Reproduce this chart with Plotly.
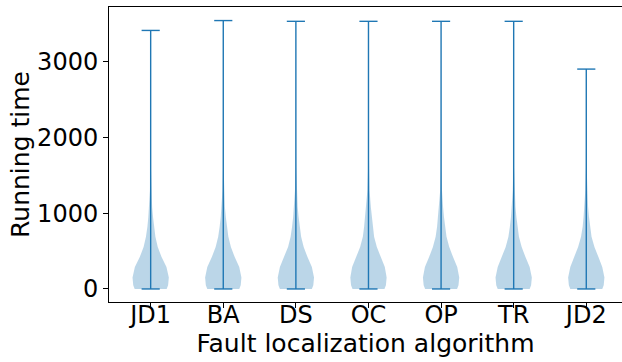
import plotly.graph_objects as go

# Fault localization algorithms and their running-time distributions
algorithms = ["JD1", "BA", "DS", "OC", "OP", "TR", "JD2"]
run_min = [0, 0, 0, 0, 0, 0, 0]
run_max = [3410, 3540, 3530, 3530, 3530, 3530, 2900]

# Running-time levels at which the density profile is given
levels = [0, 50, 150, 290, 420, 555, 690, 820, 950, 1080, 1300, 1600, 2000, 2500]

# Relative kernel density (1.0 = widest point of each violin)
density = {
    "JD1": [0.88, 0.96, 1.00, 0.87, 0.60, 0.39, 0.26, 0.18, 0.13, 0.08, 0.04, 0.015, 0.006, 0.002],
    "BA":  [0.88, 0.96, 1.00, 0.88, 0.63, 0.42, 0.28, 0.20, 0.14, 0.09, 0.045, 0.018, 0.007, 0.002],
    "DS":  [0.88, 0.96, 1.00, 0.88, 0.64, 0.43, 0.29, 0.21, 0.15, 0.10, 0.05, 0.02, 0.007, 0.002],
    "OC":  [0.88, 0.96, 1.00, 0.90, 0.68, 0.46, 0.31, 0.24, 0.18, 0.13, 0.06, 0.02, 0.007, 0.002],
    "OP":  [0.88, 0.96, 1.00, 0.89, 0.66, 0.45, 0.30, 0.22, 0.16, 0.11, 0.05, 0.02, 0.007, 0.002],
    "TR":  [0.88, 0.96, 1.00, 0.88, 0.65, 0.44, 0.29, 0.21, 0.15, 0.10, 0.05, 0.02, 0.007, 0.002],
    "JD2": [0.88, 0.96, 1.00, 0.88, 0.67, 0.45, 0.29, 0.20, 0.15, 0.10, 0.055, 0.02, 0.006, 0.002],
}

y_ticks = [0, 1000, 2000, 3000]

BLUE = "#1f77b4"
BODY = "rgba(31,119,180,0.3)"
HALF_WIDTH = 0.25   # violin half-width at peak density (x units)
CAP_HALF = 0.125    # half-length of the min/max caps

fig = go.Figure()

positions = list(range(1, len(algorithms) + 1))

# violin bodies
for pos, name, lo, hi in zip(positions, algorithms, run_min, run_max):
    ys = [v for v in levels if v <= hi] + [hi]
    ds = density[name][:len(ys) - 1] + [0.0]
    right = [pos + HALF_WIDTH * d for d in ds]
    left = [pos - HALF_WIDTH * d for d in ds]
    fig.add_trace(go.Scatter(
        x=right + left[::-1],
        y=ys + ys[::-1],
        fill="toself",
        fillcolor=BODY,
        line=dict(width=0),
        mode="lines",
        hoverinfo="skip",
        showlegend=False,
    ))

# center bars and extrema caps
for pos, lo, hi in zip(positions, run_min, run_max):
    fig.add_trace(go.Scatter(
        x=[pos, pos, None, pos - CAP_HALF, pos + CAP_HALF, None, pos - CAP_HALF, pos + CAP_HALF],
        y=[lo, hi, None, hi, hi, None, lo, lo],
        mode="lines",
        line=dict(color=BLUE, width=1.4),
        hoverinfo="skip",
        showlegend=False,
    ))

tick_font = dict(family="DejaVu Sans", size=24, color="black")
title_font = dict(family="DejaVu Sans", size=25, color="black")

fig.update_layout(
    width=622,
    height=362,
    margin=dict(l=109, r=0, t=7, b=60),
    plot_bgcolor="white",
    paper_bgcolor="white",
    font=tick_font,
    xaxis=dict(
        range=[0.426, 7.492],
        tickmode="array",
        tickvals=positions,
        ticktext=algorithms,
        ticks="outside",
        ticklen=5,
        tickwidth=1,
        tickcolor="black",
        ticklabelstandoff=-14,
        showline=True,
        linecolor="black",
        linewidth=1,
        mirror=True,
        showgrid=False,
        zeroline=False,
        tickfont=tick_font,
        title=dict(text="Fault localization algorithm", font=title_font, standoff=0),
    ),
    yaxis=dict(
        range=[-172, 3719],
        tickmode="array",
        tickvals=y_ticks,
        ticks="outside",
        ticklen=5,
        tickwidth=1,
        tickcolor="black",
        showline=True,
        linecolor="black",
        linewidth=1,
        showgrid=False,
        zeroline=False,
        tickfont=tick_font,
        title=dict(text="Running time", font=title_font, standoff=0),
    ),
)

fig.write_html("out.html")
